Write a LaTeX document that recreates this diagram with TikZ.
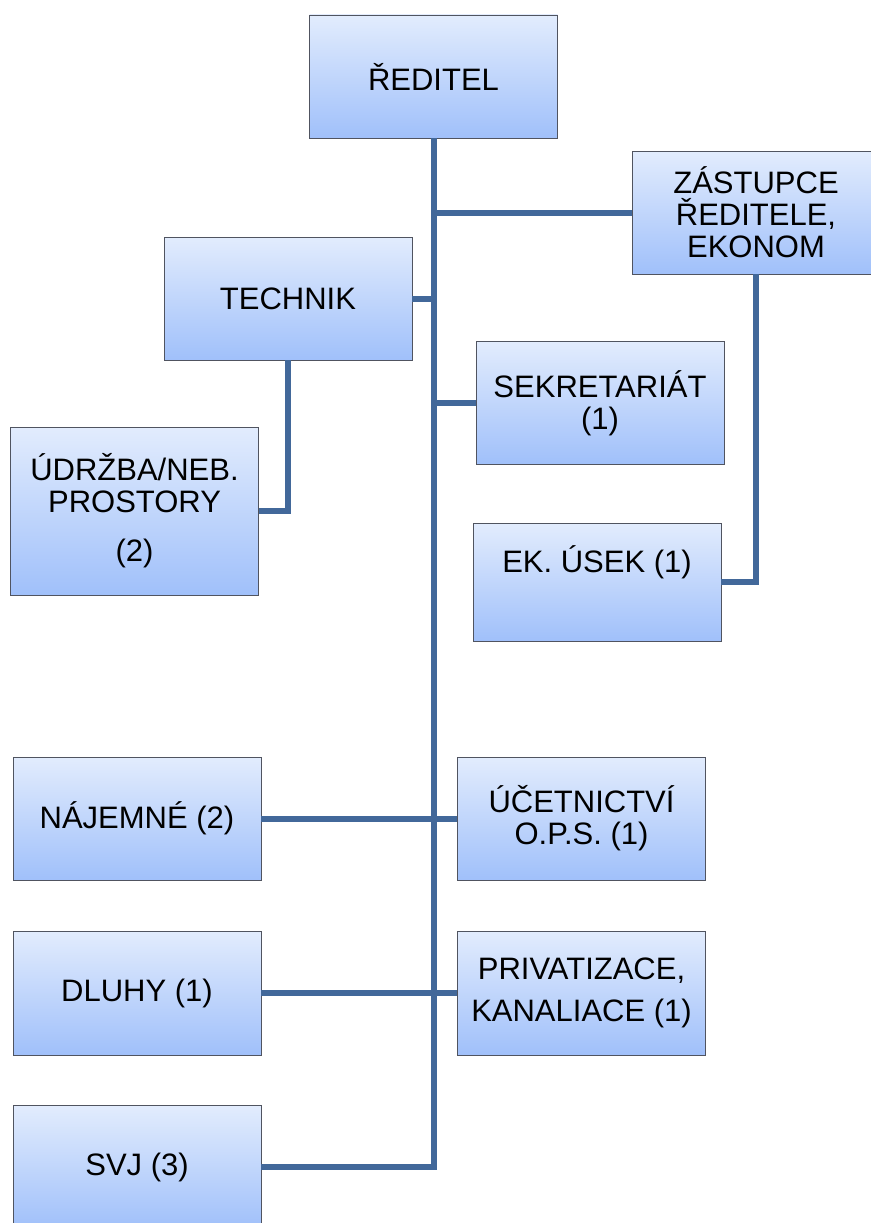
\documentclass[tikz,border=0pt]{standalone}
\usepackage{fontspec}
\setmainfont{Liberation Sans}
\definecolor{boxtop}{RGB}{226,236,253}
\definecolor{boxbottom}{RGB}{160,192,250}
\definecolor{boxline}{RGB}{80,84,96}
\definecolor{linkblue}{RGB}{66,104,154}
\begin{document}
\begin{tikzpicture}[x=1pt,y=-1pt,
    box/.style={draw=boxline,line width=0.8pt,top color=boxtop,bottom color=boxbottom,
        minimum width=248pt,minimum height=123pt,inner sep=0pt,align=center,
        font=\fontsize{31}{32}\selectfont},
    conn/.style={draw=linkblue,line width=6pt}]
\useasboundingbox (0,0) rectangle (870,1223);
\node[box] (reditel) at (433.5,76.5) {ŘEDITEL};
\node[box] (zastupce) at (756,212.5) {ZÁSTUPCE\\ŘEDITELE,\\EKONOM};
\node[box] (technik) at (288,298.5) {TECHNIK};
\node[box] (sekretariat) at (600,403) {SEKRETARIÁT\\(1)};
\node[box,minimum height=168pt] (udrzba) at (134.5,511) {ÚDRŽBA/NEB.\\PROSTORY\\[17pt](2)};
\node[box,minimum height=118pt] (ekusek) at (597,582) {EK. ÚSEK (1)\\[14pt]~};
\node[box] (najemne) at (137,818.5) {NÁJEMNÉ (2)};
\node[box] (ucetnictvi) at (581.5,818.5) {ÚČETNICTVÍ\\O.P.S. (1)};
\node[box,minimum height=124pt] (dluhy) at (137,993) {DLUHY (1)};
\node[box,minimum height=124pt] (privatizace) at (581.5,993) {PRIVATIZACE,\\[10pt]KANALIACE (1)};
\node[box] (svj) at (137,1167) {SVJ (3)};
% main line and its branches
\foreach \n in {zastupce,technik,sekretariat,svj} {
    \draw[conn] (reditel) |- (\n);
}
\draw[conn] (najemne) -- (ucetnictvi);
\draw[conn] (dluhy) -- (privatizace);
% sub-units
\draw[conn] (technik) |- (udrzba);
\draw[conn] (zastupce) |- (ekusek);
\end{tikzpicture}
\end{document}
